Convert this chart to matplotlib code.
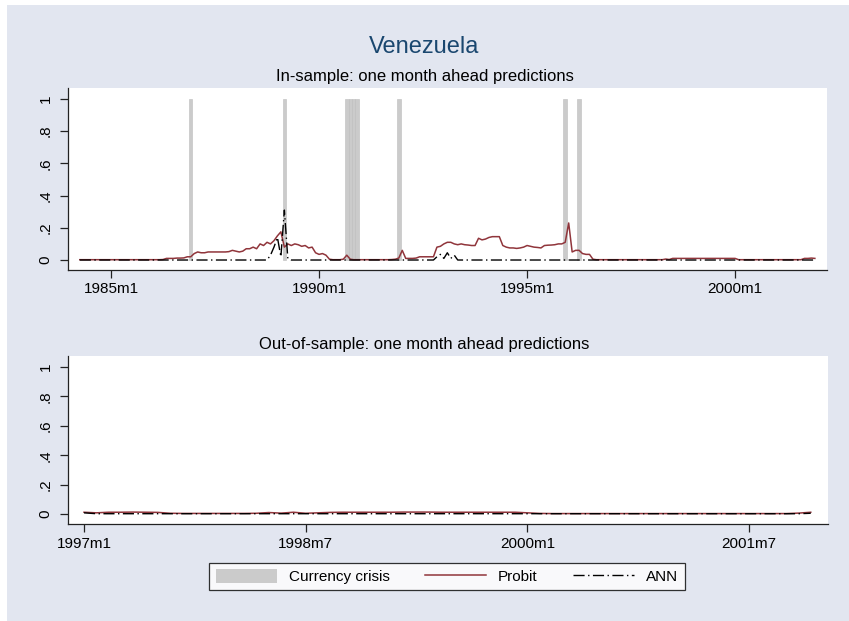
import numpy as np
import matplotlib.pyplot as plt
from matplotlib.patches import Rectangle, Patch
from matplotlib.lines import Line2D

plt.rcParams['font.family'] = ['Liberation Sans', 'DejaVu Sans']


def tm(s):
    # Stata-style monthly index ("1990m1" -> months since 1960m1)
    y, m = s.split('m')
    return (int(y) - 1960) * 12 + int(m) - 1


# ---- in-sample, 1984m4 - 2001m12 ----
ins_start = '1984m4'
probit_in = (
    [0.002] * 9                                                                          # 1984m4-12
    + [0.002] * 12                                                                       # 1985
    + [0.002, 0.002, 0.002, 0.003, 0.01, 0.01, 0.01, 0.012, 0.012, 0.013, 0.02, 0.02]    # 1986
    + [0.04, 0.05, 0.045, 0.045, 0.05, 0.05, 0.05, 0.05, 0.05, 0.05, 0.052, 0.06]        # 1987
    + [0.055, 0.05, 0.055, 0.07, 0.07, 0.08, 0.07, 0.10, 0.09, 0.11, 0.10, 0.12]         # 1988
    + [0.15, 0.175, 0.08, 0.10, 0.09, 0.10, 0.095, 0.085, 0.09, 0.075, 0.08, 0.045]      # 1989
    + [0.035, 0.04, 0.03, 0.005, 0.002, 0.002, 0.002, 0.005, 0.03, 0.005, 0.002, 0.002]  # 1990
    + [0.002] * 9 + [0.003, 0.005, 0.012]                                                # 1991
    + [0.06, 0.01, 0.01, 0.01, 0.012, 0.02, 0.02, 0.02, 0.02, 0.02, 0.08, 0.085]         # 1992
    + [0.10, 0.11, 0.11, 0.10, 0.095, 0.10, 0.095, 0.093, 0.09, 0.09, 0.135, 0.125]      # 1993
    + [0.13, 0.14, 0.145, 0.145, 0.145, 0.09, 0.08, 0.075, 0.075, 0.072, 0.075, 0.08]    # 1994
    + [0.09, 0.085, 0.08, 0.078, 0.075, 0.09, 0.092, 0.093, 0.095, 0.10, 0.10, 0.11]     # 1995
    + [0.23, 0.05, 0.06, 0.06, 0.04, 0.035, 0.035, 0.005, 0.002, 0.002, 0.002, 0.002]    # 1996
    + [0.002] * 12                                                                       # 1997
    + [0.002, 0.002, 0.002, 0.002, 0.006, 0.003, 0.01, 0.01, 0.01, 0.01, 0.01, 0.01]     # 1998
    + [0.01] * 12                                                                        # 1999
    + [0.01] + [0.002] * 11                                                              # 2000
    + [0.002] * 8 + [0.01, 0.01, 0.012, 0.01]                                            # 2001
)
ann_in = (
    [0.0] * 9
    + [0.0] * 12
    + [0.0] * 12
    + [0.0] * 12
    + [0.0] * 10 + [0.03, 0.08]
    + [0.14, 0.02, 0.31, 0.01, 0.0, 0.0, 0.0, 0.0, 0.0, 0.0, 0.0, 0.0]
    + [0.0] * 12
    + [0.0] * 12
    + [0.0] * 10 + [0.02, 0.035]
    + [0.01, 0.045, 0.01, 0.03, 0.0, 0.0, 0.0, 0.0, 0.0, 0.0, 0.0, 0.0]
    + [0.0] * 12
    + [0.0] * 12
    + [0.0] * 12
    + [0.0] * 12
    + [0.0] * 12
    + [0.0] * 12
    + [0.0] * 12
    + [0.0] * 12
)
crisis_months = ['1986m12', '1989m3', '1990m9', '1990m10', '1990m11', '1990m12',
                 '1991m12', '1995m12', '1996m4']
ins_ticks = ['1985m1', '1990m1', '1995m1', '2000m1']

# ---- out-of-sample, 1997m1 - 2001m12 ----
oos_start = '1997m1'
probit_out = (
    [0.012, 0.008, 0.012, 0.012, 0.013, 0.012, 0.011, 0.005, 0.004, 0.004, 0.004, 0.004]
    + [0.004, 0.004, 0.005, 0.010, 0.006, 0.012, 0.005, 0.008, 0.011, 0.012, 0.012, 0.012]
    + [0.012, 0.012, 0.013, 0.013, 0.013, 0.012, 0.012, 0.012, 0.012, 0.012, 0.012, 0.012]
    + [0.008, 0.004, 0.003, 0.003, 0.003, 0.003, 0.003, 0.003, 0.003, 0.003, 0.003, 0.003]
    + [0.003, 0.003, 0.003, 0.003, 0.003, 0.003, 0.003, 0.003, 0.003, 0.003, 0.006, 0.012]
)
ann_out = [0.008] + [0.002] * 58 + [0.005]
oos_ticks = ['1997m1', '1998m7', '2000m1', '2001m7']

BG = '#e2e6f0'
MAROON = '#90353b'
BAR = '#cbcbcb'

W, H = 849, 621
fig = plt.figure(figsize=(W / 100, H / 100), dpi=100, facecolor='white')
fig.patches.append(Rectangle((7 / W, 0), 1 - 7 / W, 1 - 5 / H, transform=fig.transFigure,
                             facecolor=BG, edgecolor='none', zorder=-10))


def px_axes(left, top, right, bottom):
    return fig.add_axes([left / W, 1 - bottom / H, (right - left) / W, (bottom - top) / H])


def style(ax, ticks):
    ax.set_facecolor('white')
    for s in ('top', 'right'):
        ax.spines[s].set_visible(False)
    for s in ('left', 'bottom'):
        ax.spines[s].set_color('#222222')
        ax.spines[s].set_linewidth(0.9)
    ax.set_yticks([0, 0.2, 0.4, 0.6, 0.8, 1])
    ax.set_yticklabels(['0', '.2', '.4', '.6', '.8', '1'], rotation=90, va='center')
    ax.set_xticks([tm(t) for t in ticks])
    ax.set_xticklabels(ticks)
    ax.tick_params(axis='both', labelsize=11, length=6, width=0.9, color='#222222')
    ax.tick_params(axis='y', pad=5)
    ax.tick_params(axis='x', pad=3)


ann_style = (0, (8, 2.5, 1, 2.5))

# in-sample panel
ax1 = px_axes(68, 88, 827, 270)
x_in = tm(ins_start) + np.arange(len(probit_in))
ax1.bar([tm(c) for c in crisis_months], 1, width=1, color=BAR, edgecolor='#bdbdbd',
        linewidth=0.4, zorder=1)
ax1.plot(x_in, probit_in, color=MAROON, lw=1.1, zorder=2)
ax1.plot(x_in, ann_in, color='black', lw=1.0, linestyle=ann_style, zorder=3)
ax1.set_xlim(x_in[0] - 3.4, x_in[-1] + 3.5)
ax1.set_ylim(-0.062, 1.068)
style(ax1, ins_ticks)

# out-of-sample panel
ax2 = px_axes(68, 356, 828, 524)
x_out = tm(oos_start) + np.arange(len(probit_out))
ax2.plot(x_out, probit_out, color=MAROON, lw=1.1, zorder=2)
ax2.plot(x_out, ann_out, color='black', lw=1.0, linestyle=ann_style, zorder=3)
ax2.set_xlim(x_out[0] - 1.3, x_out[-1] + 1.4)
ax2.set_ylim(-0.068, 1.075)
style(ax2, oos_ticks)

fig.text(0.5, 1 - 47 / H, 'Venezuela', ha='center', va='center', fontsize=17, color='#1a476f')
fig.text(0.5, 1 - 76 / H, 'In-sample: one month ahead predictions', ha='center', va='center',
         fontsize=12)
fig.text(0.5, 1 - 345 / H, 'Out-of-sample: one month ahead predictions', ha='center',
         va='center', fontsize=12)

handles = [Patch(facecolor=BAR, edgecolor='none'),
           Line2D([], [], color=MAROON, lw=1.1),
           Line2D([], [], color='black', lw=1.0, linestyle=ann_style)]
leg = fig.legend(handles, ['Currency crisis', 'Probit', 'ANN'], loc='center',
                 bbox_to_anchor=(447 / W, 1 - 576.5 / H), ncol=3, fontsize=11,
                 frameon=True, fancybox=False, handlelength=4.0, handleheight=1.0,
                 handletextpad=0.8, columnspacing=2.3, borderpad=0.4)
leg.get_frame().set_edgecolor('black')
leg.get_frame().set_linewidth(0.9)

fig.savefig('out.png', dpi=100, facecolor=fig.get_facecolor())
